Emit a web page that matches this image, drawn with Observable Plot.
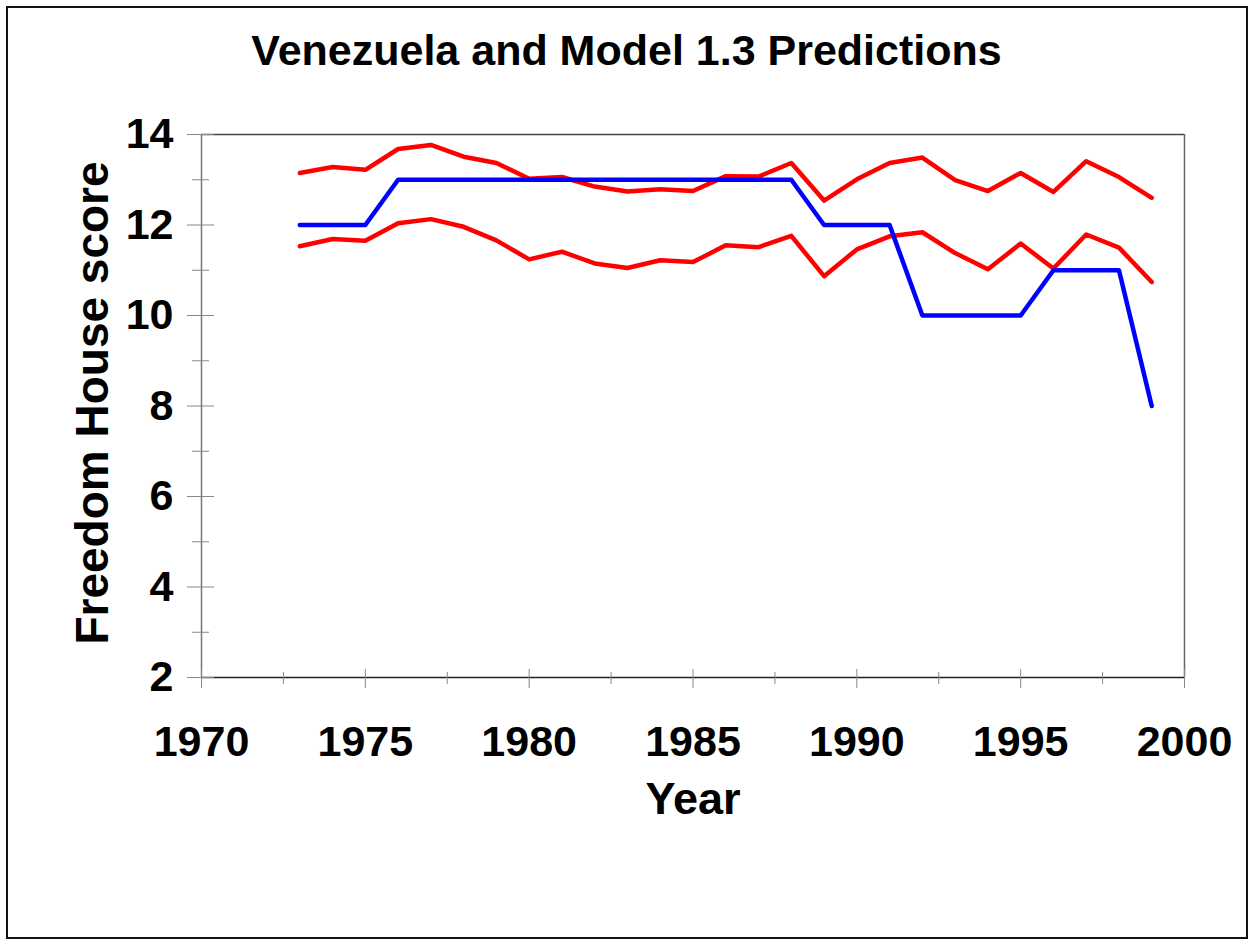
<!DOCTYPE html>
<html>
<head>
<meta charset="utf-8">
<script src="https://cdn.jsdelivr.net/npm/d3@7"></script>
<script src="https://cdn.jsdelivr.net/npm/@observablehq/plot@0.6"></script>
<style>
  html, body { margin: 0; padding: 0; background: #fff; }
  #wrap { position: relative; width: 1249px; height: 940px; background: #fff; overflow: hidden; font-family: "Liberation Sans", Arial, sans-serif; }
  #border { position: absolute; left: 6px; top: 6px; width: 1238px; height: 929px; border: 2px solid #111; }
  #title { position: absolute; left: 0; top: 29px; width: 1253px; text-align: center; font-size: 43px; line-height: 43px; font-weight: bold; color: #000; }
  #chart { position: absolute; left: 0; top: 80px; }
</style>
</head>
<body>
<div id="wrap">
  <div id="border"></div>
  <div id="title">Venezuela and Model 1.3 Predictions</div>
  <div id="chart"></div>
</div>
<script>
const years = [1973, 1974, 1975, 1976, 1977, 1978, 1979, 1980, 1981, 1982, 1983, 1984, 1985, 1986,
               1987, 1988, 1989, 1990, 1991, 1992, 1993, 1994, 1995, 1996, 1997, 1998, 1999];
const actual = [12, 12, 12, 13, 13, 13, 13, 13, 13, 13, 13, 13, 13, 13,
                13, 13, 12, 12, 12, 10, 10, 10, 10, 11, 11, 11, 8];
const upperBound = [13.15, 13.28, 13.22, 13.68, 13.77, 13.51, 13.37, 13.02, 13.06, 12.85, 12.74, 12.79, 12.75, 13.08,
                    13.07, 13.37, 12.54, 13.01, 13.37, 13.49, 12.99, 12.75, 13.15, 12.73, 13.41, 13.06, 12.60];
const lowerBound = [11.53, 11.69, 11.65, 12.04, 12.13, 11.96, 11.66, 11.24, 11.41, 11.15, 11.05, 11.22, 11.18, 11.55,
                    11.51, 11.76, 10.87, 11.46, 11.75, 11.84, 11.38, 11.02, 11.59, 11.04, 11.79, 11.50, 10.74];

const xTicks = [1970, 1975, 1980, 1985, 1990, 1995, 2000];
const xMinorTicks = [1972.5, 1977.5, 1982.5, 1987.5, 1992.5, 1997.5];
const yTicks = [2, 4, 6, 8, 10, 12, 14];
const yMinorTicks = [3, 5, 7, 9, 11, 13];
const xDomain = [1970, 2000];
const yDomain = [2, 14];
const xLabel = "Year";
const yLabel = "Freedom House score";

const toRows = vals => years.map((yr, i) => ({year: yr, value: vals[i]}));

const tickFont = {fontSize: 43, fontWeight: "bold", fill: "#000"};

const chart = Plot.plot({
  width: 1249,
  height: 780,
  marginLeft: 201,
  marginRight: 65,
  marginTop: 54,
  marginBottom: 183,
  style: {fontFamily: "Liberation Sans, Arial, sans-serif", background: "transparent", overflow: "visible"},
  x: {domain: xDomain},
  y: {domain: yDomain},
  marks: [
    // frame lines
    Plot.ruleX([xDomain[0]], {stroke: "#777", strokeWidth: 1.5}),
    Plot.ruleX([xDomain[1]], {stroke: "#666", strokeWidth: 1.5}),
    Plot.ruleY([yDomain[1]], {stroke: "#444", strokeWidth: 1.5}),
    Plot.ruleY([yDomain[0]], {stroke: "#222", strokeWidth: 1.5}),
    // tick marks crossing the axes
    Plot.axisX({ticks: xTicks, tickSize: 19, dy: -8, fill: "none", stroke: "#888", label: null}),
    Plot.axisX({ticks: xMinorTicks, tickSize: 12, dy: -5, fill: "none", stroke: "#888", label: null}),
    Plot.axisY({ticks: yTicks, tickSize: 27, dx: 13, fill: "none", stroke: "#888", label: null}),
    Plot.axisY({ticks: yMinorTicks, tickSize: 17, dx: 8, fill: "none", stroke: "#888", label: null}),
    // tick labels
    Plot.axisX({ticks: xTicks, tickSize: 0, tickPadding: 48, tickFormat: "d", label: null, ...tickFont}),
    Plot.axisY({ticks: yTicks, tickSize: 0, tickPadding: 28, tickFormat: "d", label: null, ...tickFont}),
    // axis titles
    Plot.text([xLabel], {frameAnchor: "bottom", dy: 122, lineAnchor: "middle", textAnchor: "middle", fontSize: 45, fontWeight: "bold", fill: "#000"}),
    Plot.text([yLabel], {frameAnchor: "left", dx: -108, dy: -3, rotate: -90, textAnchor: "middle", lineAnchor: "middle", fontSize: 46, fontWeight: "bold", fill: "#000"}),
    // data
    Plot.line(toRows(upperBound), {x: "year", y: "value", stroke: "#ff0000", strokeWidth: 4.5}),
    Plot.line(toRows(lowerBound), {x: "year", y: "value", stroke: "#ff0000", strokeWidth: 4.5}),
    Plot.line(toRows(actual), {x: "year", y: "value", stroke: "#0000ff", strokeWidth: 4.5})
  ]
});
document.getElementById("chart").appendChild(chart);
</script>
</body>
</html>
